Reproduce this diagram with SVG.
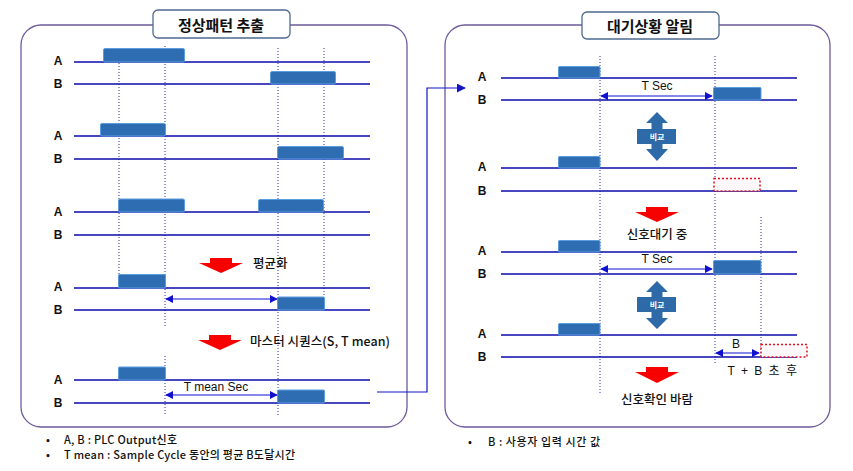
<svg xmlns="http://www.w3.org/2000/svg" width="853" height="471" viewBox="0 0 853 471">
<defs>
<style>
.panel{fill:#fff;stroke:#6E5A9C;stroke-width:1.3}
.title{fill:#fff;stroke:#4D6A8E;stroke-width:1.3}
.ttl{font-family:"Noto Sans CJK KR","Noto Sans",sans-serif;font-size:15px;font-weight:bold;fill:#111;text-anchor:middle;dominant-baseline:central}
.ln{stroke:#0A0AAA;stroke-width:1.3;fill:none}
.dot{stroke:#3030A8;stroke-width:1;stroke-dasharray:1 2;fill:none}
.blk{fill:#2F6DB3;stroke:#5C9DE0;stroke-width:1}
.miss{fill:#FFF8FA;stroke:#E01020;stroke-width:1.5;stroke-dasharray:2 2}
.lab{font-family:"Liberation Sans",Arial,sans-serif;font-size:12px;font-weight:bold;fill:#111;text-anchor:middle;dominant-baseline:central}
.kt{font-family:"Noto Sans CJK KR","Noto Sans",sans-serif;font-size:12.5px;font-weight:500;fill:#111;dominant-baseline:central}
.sm{font-family:"Liberation Sans","Noto Sans CJK KR",sans-serif;font-size:12px;fill:#111;text-anchor:middle;dominant-baseline:central}
.dim{stroke:#1010D0;stroke-width:1.2;fill:none;marker-start:url(#ah);marker-end:url(#ah)}
.red{fill:#F80000}
.cmp{fill:#2F6AA8}
.cmpt{font-family:"Noto Sans CJK KR",sans-serif;font-size:8px;font-weight:bold;fill:#fff;text-anchor:middle;dominant-baseline:central}
.note{font-family:"Noto Sans CJK KR","Noto Sans",sans-serif;font-size:11px;font-weight:500;fill:#111;dominant-baseline:central}
.con{stroke:#1515C8;stroke-width:1.2;fill:none}
</style>
<marker id="ah" viewBox="0 0 10 10" refX="9" refY="5" markerWidth="8" markerHeight="8" markerUnits="userSpaceOnUse" orient="auto-start-reverse">
<path d="M0,0 L10,5 L0,10 z" fill="#1010D0"/>
</marker>
<marker id="ah2" viewBox="0 0 10 10" refX="9" refY="5" markerWidth="9" markerHeight="9" markerUnits="userSpaceOnUse" orient="auto">
<path d="M0,0 L10,5 L0,10 z" fill="#1515C8"/>
</marker>
</defs>
<rect width="853" height="471" fill="#fff"/>

<g id="panel-left">
<rect class="panel" x="21" y="25" width="386" height="402" rx="20"/>
<rect class="title" x="153" y="10" width="137" height="28" rx="5"/>
<text class="ttl" x="221" y="24">정상패턴 추출</text>
</g>

<g id="panel-right">
<rect class="panel" x="445" y="25" width="385" height="402" rx="20"/>
<rect class="title" x="582" y="12" width="137" height="27" rx="5"/>
<text class="ttl" x="650" y="25.5">대기상황 알림</text>
</g>

<g id="left-timing">
<g class="dots">
<line class="dot" x1="119" y1="48" x2="119" y2="275"/>
<line class="dot" x1="165" y1="46" x2="165" y2="328"/>
<line class="dot" x1="165" y1="356" x2="165" y2="415"/>
<line class="dot" x1="278" y1="48" x2="278" y2="417"/>
<line class="dot" x1="324" y1="48" x2="324" y2="296"/>
</g>
<line class="ln" x1="74" y1="62" x2="370" y2="62"/>
<line class="ln" x1="74" y1="84" x2="370" y2="84"/>
<line class="ln" x1="74" y1="136" x2="370" y2="136"/>
<line class="ln" x1="74" y1="159" x2="370" y2="159"/>
<line class="ln" x1="74" y1="212" x2="370" y2="212"/>
<line class="ln" x1="74" y1="235" x2="370" y2="235"/>
<line class="ln" x1="74" y1="288" x2="370" y2="288"/>
<line class="ln" x1="74" y1="310" x2="370" y2="310"/>
<line class="ln" x1="74" y1="380" x2="370" y2="380"/>
<line class="ln" x1="74" y1="403" x2="370" y2="403"/>
<text class="lab" x="58" y="61">A</text><text class="lab" x="58" y="84">B</text>
<text class="lab" x="58" y="136">A</text><text class="lab" x="58" y="159">B</text>
<text class="lab" x="58" y="212">A</text><text class="lab" x="58" y="235">B</text>
<text class="lab" x="58" y="287">A</text><text class="lab" x="58" y="310">B</text>
<text class="lab" x="58" y="380">A</text><text class="lab" x="58" y="403">B</text>
<rect class="blk" x="103.5" y="48.5" width="81" height="13.5" rx="1.5"/>
<rect class="blk" x="270.5" y="71.5" width="65" height="12.5" rx="1.5"/>
<rect class="blk" x="100.5" y="123.5" width="65" height="12.5" rx="1.5"/>
<rect class="blk" x="277.5" y="146.5" width="66" height="12.5" rx="1.5"/>
<rect class="blk" x="118.5" y="199" width="66" height="13" rx="1.5"/>
<rect class="blk" x="258.5" y="199.5" width="65" height="12.5" rx="1.5"/>
<rect class="blk" x="118.5" y="274.5" width="47" height="13.5" rx="1"/>
<rect class="blk" x="277.5" y="297" width="47" height="13" rx="1"/>
<rect class="blk" x="118.5" y="367" width="47" height="13" rx="1"/>
<rect class="blk" x="277.5" y="390" width="47" height="13" rx="1"/>
<line class="dim" x1="166" y1="299" x2="277" y2="299"/>
<line class="dim" x1="166" y1="395" x2="277" y2="395"/>
<text class="sm" x="216" y="387">T mean Sec</text>
<path class="red" d="M210,258 h22 v5 h11 l-22,10 l-22,-10 h11 z"/>
<text class="kt" x="253" y="262">평균화</text>
<path class="red" d="M209,335 h22 v5 h11 l-22,10 l-22,-10 h11 z"/>
<text class="kt" x="250" y="340" textLength="140">마스터 시퀀스(S, T mean)</text>
</g>

<g id="right-timing">
<line class="dot" x1="600" y1="56" x2="600" y2="395"/>
<line class="dot" x1="715" y1="56" x2="715" y2="363"/>
<line class="dot" x1="761" y1="217" x2="761" y2="357"/>
<line class="ln" x1="501" y1="78" x2="797" y2="78"/>
<line class="ln" x1="501" y1="100" x2="797" y2="100"/>
<line class="ln" x1="501" y1="168" x2="797" y2="168"/>
<line class="ln" x1="501" y1="191" x2="797" y2="191"/>
<line class="ln" x1="501" y1="252" x2="797" y2="252"/>
<line class="ln" x1="501" y1="274" x2="797" y2="274"/>
<line class="ln" x1="501" y1="335" x2="797" y2="335"/>
<line class="ln" x1="501" y1="357" x2="797" y2="357"/>
<text class="lab" x="482" y="77">A</text><text class="lab" x="482" y="100">B</text>
<text class="lab" x="482" y="167">A</text><text class="lab" x="482" y="191">B</text>
<text class="lab" x="482" y="251">A</text><text class="lab" x="482" y="274">B</text>
<text class="lab" x="482" y="334">A</text><text class="lab" x="482" y="357">B</text>
<rect class="blk" x="558.5" y="66.5" width="41.5" height="11.5" rx="1"/>
<rect class="blk" x="713.5" y="87.5" width="47.5" height="12.5" rx="1"/>
<rect class="blk" x="558.5" y="156.5" width="41.5" height="11.5" rx="1"/>
<rect class="miss" x="714" y="178.5" width="46" height="12.5"/>
<rect class="blk" x="558.5" y="240.5" width="41.5" height="11.5" rx="1"/>
<rect class="blk" x="713.5" y="260.5" width="47.5" height="13.5" rx="1"/>
<rect class="blk" x="558.5" y="323.5" width="41.5" height="11.5" rx="1"/>
<rect class="miss" x="761" y="344.5" width="46" height="12.5"/>
<line class="dim" x1="601" y1="96" x2="712" y2="96"/>
<text class="sm" x="657" y="86">T Sec</text>
<line class="dim" x1="601" y1="269" x2="712" y2="269"/>
<text class="sm" x="657" y="259">T Sec</text>
<line class="dim" x1="716" y1="353" x2="759" y2="353"/>
<text class="sm" x="736" y="344">B</text>
<text class="sm" x="763" y="371" letter-spacing="1.5">T + B 초 후</text>
<g id="compare-1">
<path class="cmp" d="M657,112 l11,11 h-5.5 v26 h5.5 l-11,12 l-11,-12 h5.5 v-26 h-5.5 z"/>
<rect class="cmp" x="637" y="129" width="39" height="15"/>
<text class="cmpt" x="657" y="136.5">비교</text>
</g>
<g id="compare-2">
<path class="cmp" d="M657,281 l11,11 h-5.5 v26 h5.5 l-11,11 l-11,-11 h5.5 v-26 h-5.5 z"/>
<rect class="cmp" x="637" y="297" width="39" height="15"/>
<text class="cmpt" x="657" y="304.5">비교</text>
</g>
<path class="red" d="M646,207 h22 v5 h11 l-22,10 l-22,-10 h11 z"/>
<text class="kt" x="657" y="233" text-anchor="middle" font-size="13">신호대기 중</text>
<path class="red" d="M646,367 h22 v5 h11 l-22,11 l-22,-11 h11 z"/>
<text class="kt" x="657" y="398" text-anchor="middle" font-size="13">신호확인 바람</text>
</g>

<g id="connectors">
<path class="con" d="M377,392 H427 V88 H465" marker-end="url(#ah2)"/>
</g>

<g id="notes">
<text class="note" x="46" y="439">•</text>
<text class="note" x="64" y="439" textLength="113">A, B : PLC Output신호</text>
<text class="note" x="46" y="453.5">•</text>
<text class="note" x="64" y="453.5" textLength="231">T mean : Sample Cycle 동안의 평균 B도달시간</text>
<text class="note" x="468" y="441">•</text>
<text class="note" x="488" y="441" textLength="112">B : 사용자 입력 시간 값</text>
</g>
</svg>
